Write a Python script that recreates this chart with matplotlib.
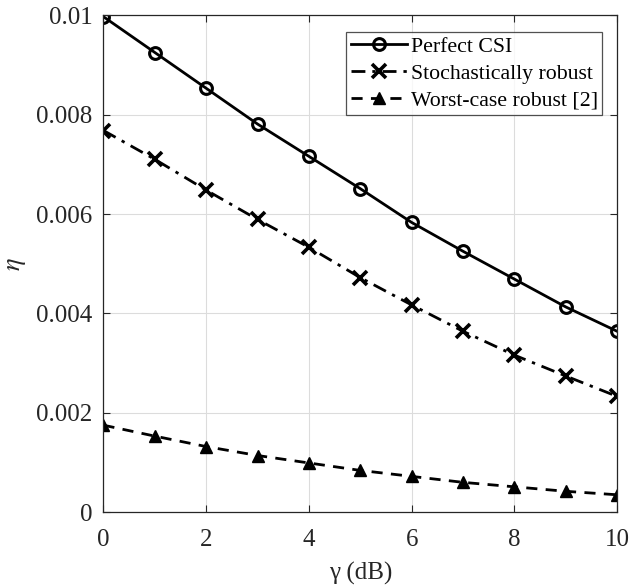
import numpy as np
import matplotlib
matplotlib.use("Agg")
import matplotlib.pyplot as plt

plt.rcParams['font.family'] = ['Liberation Serif', 'DejaVu Serif']
plt.rcParams['mathtext.fontset'] = 'stix'

# data
gamma_db = np.arange(0, 11)
perfect_csi = [0.00997, 0.00925, 0.00853, 0.00781, 0.00716, 0.00651,
               0.00583, 0.00525, 0.00469, 0.00413, 0.00364]
stoch_robust = [0.00768, 0.00710, 0.00648, 0.00589, 0.00533, 0.00472,
                0.00417, 0.00364, 0.00316, 0.00274, 0.00233]
worst_robust = [0.00175, 0.00153, 0.00132, 0.00114, 0.00099, 0.00084,
                0.00072, 0.00060, 0.00051, 0.00042, 0.00035]
labels = ["Perfect CSI", "Stochastically robust", "Worst-case robust [2]"]

fig = plt.figure(figsize=(6.31, 5.86), dpi=100)
ax = fig.add_axes([0.164, 0.126, 0.814, 0.848])

ax.plot(gamma_db, perfect_csi, color='k', lw=2.0, ls='-', marker='o',
        ms=8.5, mew=2.2, mfc='none', label=labels[0])
ax.plot(gamma_db, stoch_robust, color='k', lw=2.0, marker='x',
        ms=10, mew=2.6, label=labels[1], dashes=(5, 2.5, 1.2, 2.5))
ax.plot(gamma_db, worst_robust, color='k', lw=2.0, marker='^',
        ms=8.5, mew=1.0, mfc='k', label=labels[2], dashes=(4, 3))

ax.set_xlim(0, 10)
ax.set_ylim(0, 0.01)
ax.set_xticks([0, 2, 4, 6, 8, 10])
ax.set_yticks([0, 0.002, 0.004, 0.006, 0.008, 0.01])
ax.set_yticklabels(["0", "0.002", "0.004", "0.006", "0.008", "0.01"])

ax.grid(True, color='#dcdcdc', lw=0.8)
ax.set_axisbelow(True)
for s in ax.spines.values():
    s.set_color('#262626')
    s.set_linewidth(0.9)
ax.tick_params(direction='in', top=True, right=True, length=5,
               width=0.8, color='#262626', labelsize=18, labelcolor='#262626')
ax.tick_params(axis='x', pad=12)
ax.tick_params(axis='y', pad=8)

ax.set_xlabel("γ (dB)", fontsize=18, color='#262626', labelpad=8)
ax.set_ylabel(r"$\eta$", fontsize=19, color='#262626', labelpad=6)

leg = ax.legend(loc='upper right', bbox_to_anchor=(0.971, 0.966),
                borderaxespad=0, fontsize=15.7, frameon=True, fancybox=False,
                handlelength=2.6, handletextpad=0.15, labelspacing=0.3,
                borderpad=0.2)
leg.get_frame().set_edgecolor('#262626')
leg.get_frame().set_linewidth(0.9)

plt.savefig("out.png", dpi=100)
